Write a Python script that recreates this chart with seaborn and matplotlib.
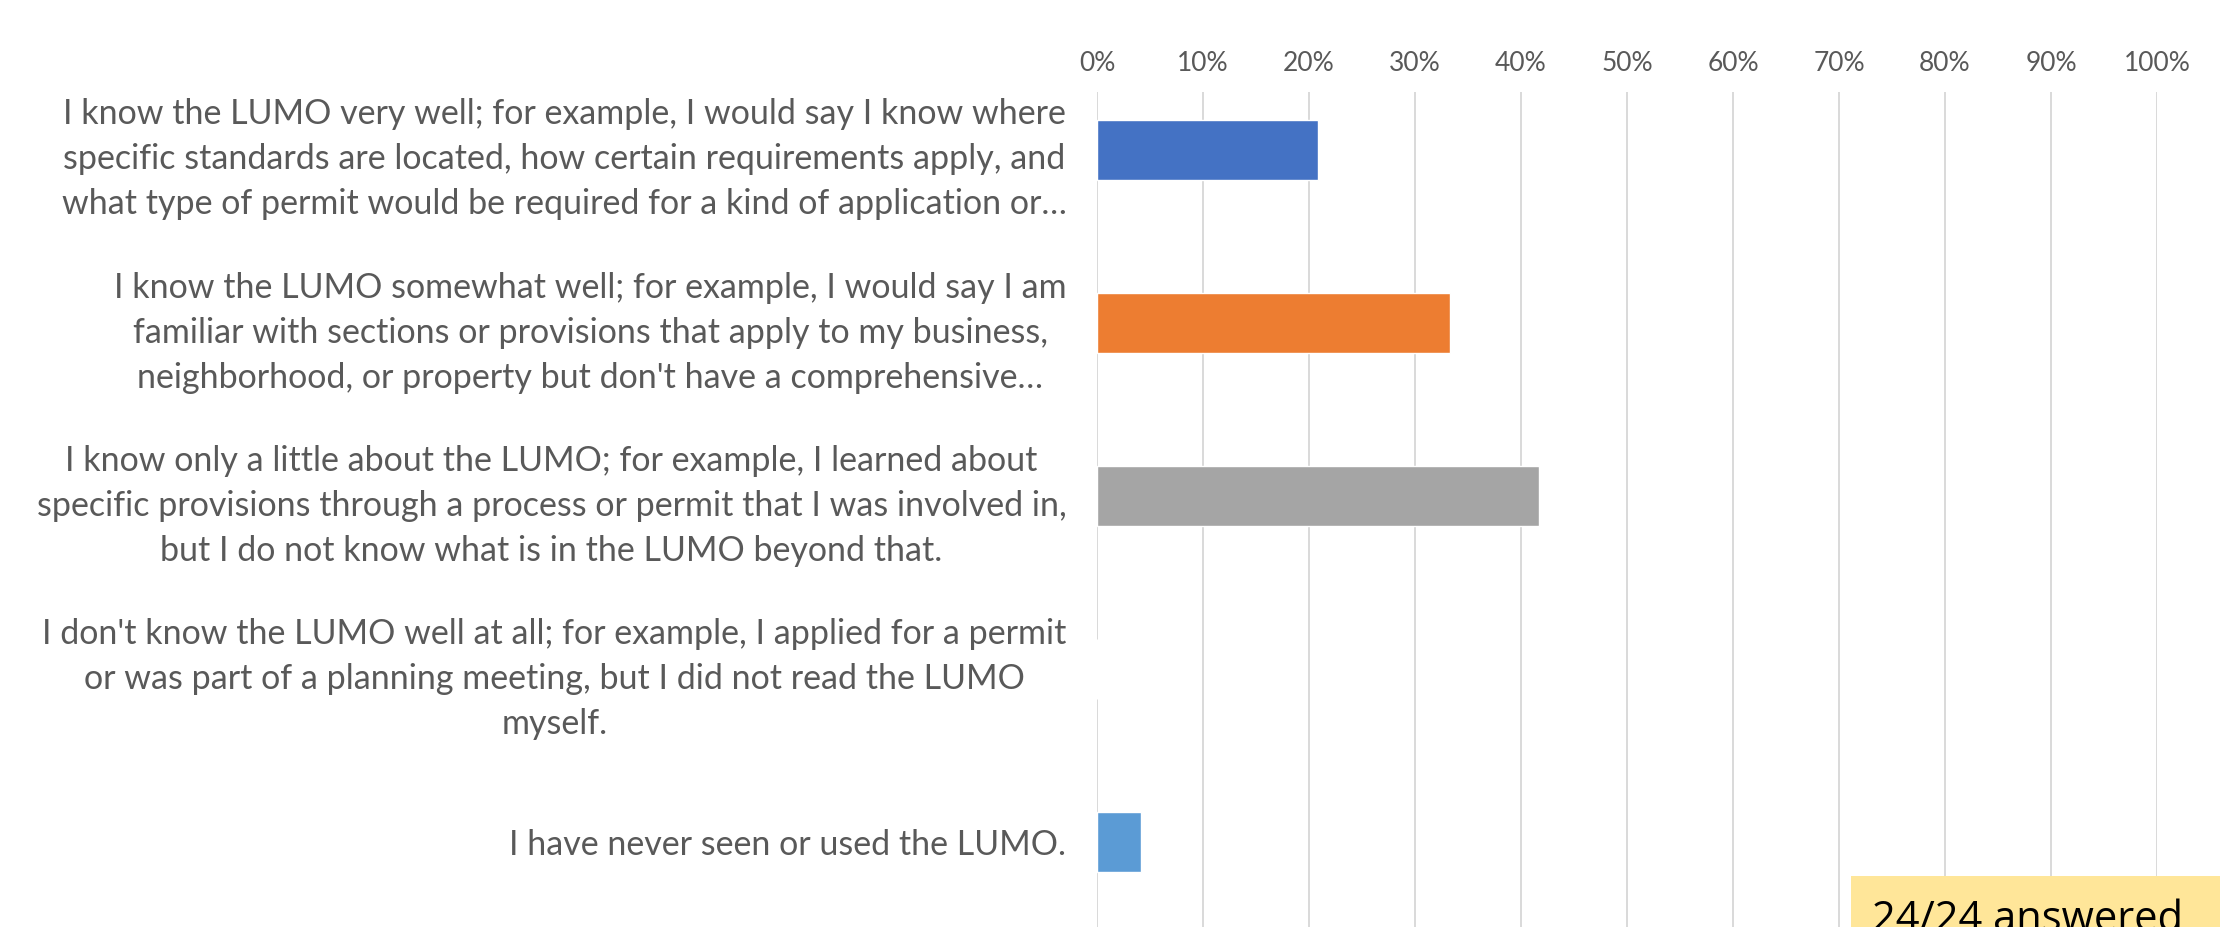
import matplotlib
matplotlib.use("Agg")
import matplotlib.pyplot as plt
import matplotlib.patches as mpatches
import seaborn as sns
import pandas as pd

# Survey responses: familiarity with the LUMO (24 respondents)
categories = [
    "I know the LUMO very well; for example, I would say I know where\nspecific standards are located, how certain requirements apply, and\nwhat type of permit would be required for a kind of application or…",
    "I know the LUMO somewhat well; for example, I would say I am\nfamiliar with sections or provisions that apply to my business,\nneighborhood, or property but don't have a comprehensive…",
    "I know only a little about the LUMO; for example, I learned about\nspecific provisions through a process or permit that I was involved in,\nbut I do not know what is in the LUMO beyond that.",
    "I don't know the LUMO well at all; for example, I applied for a permit\nor was part of a planning meeting, but I did not read the LUMO\nmyself.",
    "I have never seen or used the LUMO.",
]
counts = [5, 8, 10, 0, 1]
total_answered = 24
share = [c / total_answered for c in counts]
bar_colors = ["#4472C4", "#ED7D31", "#A5A5A5", "#FFC000", "#5B9BD5"]
x_ticks = [i / 10 for i in range(11)]
x_tick_labels = [f"{i * 10}%" for i in range(11)]
answered_note = f"{total_answered}/{total_answered} answered"

df = pd.DataFrame({"category": categories, "share": share})

sns.set_theme(style="white")
plt.rcParams["font.family"] = ["Lato", "DejaVu Sans"]
text_gray = "#595959"

fig = plt.figure(figsize=(22.2, 9.27), dpi=100)
ax = fig.add_axes([1097 / 2220, 0.0, (2157 - 1097) / 2220, 1 - 92 / 927])

sns.barplot(
    data=df, x="share", y="category", hue="category",
    palette=bar_colors, legend=False, width=0.35, saturation=1,
    orient="h", ax=ax, zorder=3,
)

ax.set_xlim(0, 1)
ax.set_ylim(4.49, -0.335)
ax.set_xticks(x_ticks)
ax.set_xticklabels(x_tick_labels)
ax.xaxis.tick_top()
ax.tick_params(axis="x", length=0, pad=11.5, labelsize=19, labelcolor=text_gray)
ax.tick_params(axis="y", length=0, pad=22, labelsize=24.5, labelcolor=text_gray)
for lbl in ax.get_yticklabels():
    lbl.set_multialignment("center")
    lbl.set_linespacing(1.5)
ax.set_xlabel("")
ax.set_ylabel("")
ax.grid(axis="x", color="#D9D9D9", linewidth=1.4, zorder=0)
ax.grid(axis="y", visible=False)
for side in ax.spines.values():
    side.set_visible(False)

# Response-count badge in the lower right corner
fig.patches.append(mpatches.Rectangle(
    (1851 / 2220, 0), 1.0, (927 - 876) / 927,
    transform=fig.transFigure, facecolor="#FFE699", edgecolor="none", zorder=5,
))
fig.text(1872 / 2220, -4 / 927, answered_note, fontsize=30, color="black",
         family=["Open Sans", "DejaVu Sans"], va="baseline", ha="left", zorder=6)

fig.savefig("out.png", dpi=100)
